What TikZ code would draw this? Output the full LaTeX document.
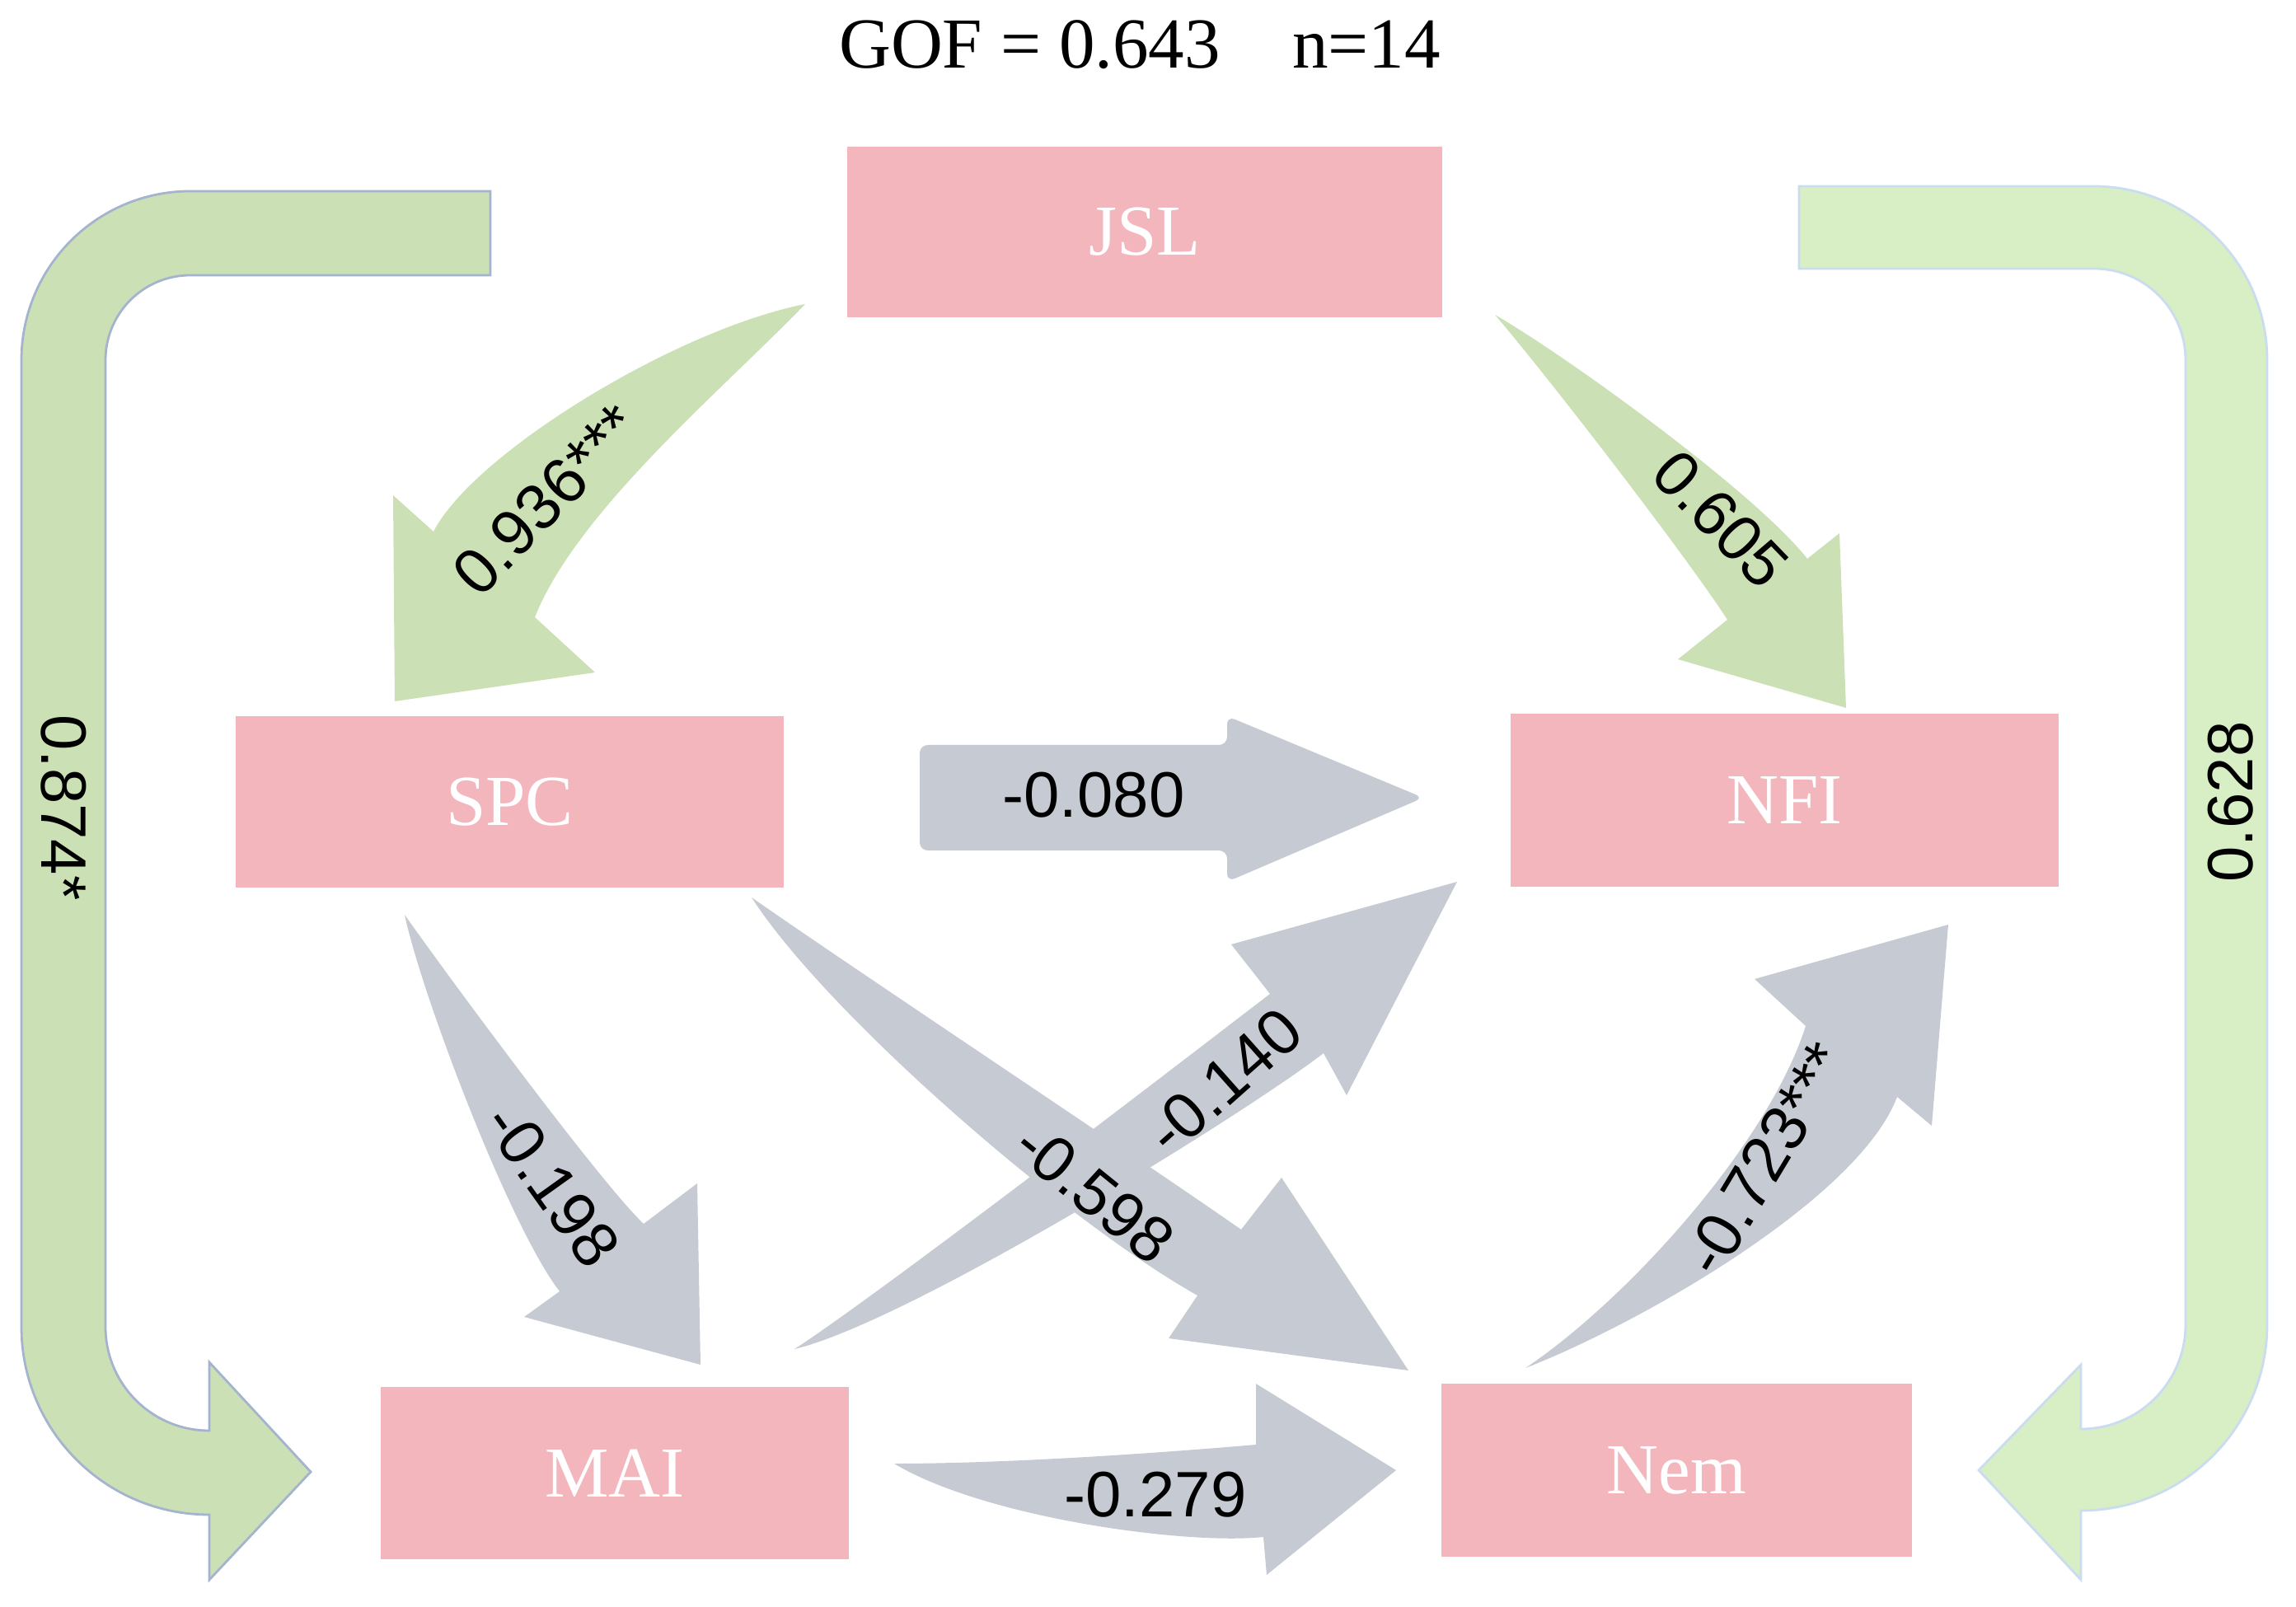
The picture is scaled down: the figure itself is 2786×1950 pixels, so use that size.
\documentclass[tikz,border=0pt]{standalone}
\usepackage{fontspec}
\setmainfont{Liberation Serif}
\newfontfamily\coeffont{Liberation Sans}
\usepackage{tikz}
\definecolor{boxpink}{HTML}{F3B6BD}
\definecolor{pathgray}{HTML}{C6CAD2}
\definecolor{pathgreen}{HTML}{CBE0B5}
\definecolor{pathlight}{HTML}{D8EEC5}
\definecolor{rimblue}{HTML}{A5B4CE}
\definecolor{rimlight}{HTML}{CADCEF}

\begin{document}
\begin{tikzpicture}[x=0.005cm, y=0.005cm,
    var/.style={rectangle, fill=boxpink, text=white, inner sep=0pt, font=\fontsize{12.4}{14}\selectfont},
    coef/.style={inner sep=0pt, font=\coeffont\fontsize{11.1}{13}\selectfont},
    gray arrow/.style={fill=pathgray},
    green arrow/.style={fill=pathgreen}]
        \useasboundingbox (0,0) rectangle (2786,-1950);
        \node[anchor=base, font=\fontsize{12.4}{14}\selectfont] (gof) at (1383,-83) {GOF = 0.643\hspace{1em}n=14};
        \node[var, minimum width=3.61cm, minimum height=1.035cm] (jsl) at (1389,-281.5) {JSL};
        \node[var, minimum width=3.325cm, minimum height=1.04cm] (spc) at (618.5,-973) {SPC};
        \node[var, minimum width=3.325cm, minimum height=1.05cm] (nfi) at (2165.5,-971) {NFI};
        \node[var, minimum width=2.84cm, minimum height=1.045cm] (mai) at (746,-1787.5) {MAI};
        \node[var, minimum width=2.855cm, minimum height=1.05cm] (nem) at (2034.5,-1784) {Nem};
        \filldraw[fill=pathgreen, draw=rimblue, line width=0.4pt] (595,-232) -- (231,-232) arc[start angle=90, end angle=180, radius=205] -- (26,-1610) arc[start angle=180, end angle=270, radius=228] -- (254,-1917) -- (377,-1786) -- (254,-1653) -- (254,-1736) arc[start angle=270, end angle=180, radius=126] -- (128,-437) arc[start angle=180, end angle=90, radius=103] -- (595,-334) -- cycle;
        \filldraw[fill=pathlight, draw=rimlight, line width=0.4pt] (2183,-226) -- (2540,-226) arc[start angle=90, end angle=0, radius=211] -- (2751,-1607) arc[start angle=0, end angle=-90, radius=226] -- (2525,-1917) -- (2401,-1784) -- (2525,-1656) -- (2525,-1734) arc[start angle=-90, end angle=0, radius=127] -- (2652,-437) arc[start angle=0, end angle=90, radius=111] -- (2183,-326) -- cycle;
        \fill[green arrow] (977,-369) .. controls (820,-400) and (575,-550) .. (526,-645) -- (477,-601) -- (479,-851) -- (722,-816) -- (649,-749) .. controls (700,-620) and (880,-470) .. (977,-369) -- cycle;
        \fill[green arrow] (1814,-382) .. controls (1904,-434) and (2131,-599) .. (2193,-678) -- (2232,-647) -- (2240,-859) -- (2036,-800) -- (2096,-752) .. controls (2047,-676) and (1879,-458) .. (1814,-382) -- cycle;
        \fill[gray arrow, rounded corners=1.4pt] (1489,-904) -- (1489,-869) -- (1727,-968) -- (1489,-1070) -- (1489,-1032) -- (1116,-1032) -- (1116,-904) -- cycle;
        \fill[gray arrow] (491,-1110) .. controls (511,-1205) and (618,-1488) .. (679,-1567) -- (636,-1598) -- (850,-1656) -- (846,-1436) -- (781,-1485) .. controls (730,-1437) and (546,-1188) .. (491,-1110) -- cycle;
        \fill[gray arrow] (912,-1089) .. controls (1035,-1175) and (1383,-1406) .. (1506,-1492) -- (1555,-1429) -- (1709,-1663) -- (1418,-1624) -- (1453,-1572) .. controls (1290,-1480) and (1002,-1229) .. (912,-1089) -- cycle;
        \fill[gray arrow] (964,-1637) .. controls (1065,-1572) and (1446,-1279) .. (1541,-1206) -- (1494,-1146) -- (1768,-1070) -- (1634,-1329) -- (1606,-1278) .. controls (1503,-1357) and (1100,-1605) .. (964,-1637) -- cycle;
        \fill[gray arrow] (1851,-1660) .. controls (1975,-1577) and (2146,-1387) .. (2191,-1245) -- (2129,-1188) -- (2364,-1122) -- (2344,-1366) -- (2302,-1331) .. controls (2255,-1455) and (1990,-1606) .. (1851,-1660) -- cycle;
        \fill[gray arrow] (1085,-1776) .. controls (1230,-1776) and (1420,-1762) .. (1524,-1753) -- (1524,-1679) -- (1694,-1784) -- (1537,-1911) -- (1533,-1865) .. controls (1440,-1875) and (1195,-1842) .. (1085,-1776) -- cycle;
        \node[coef, rotate=45.7] (c936) at (663,-606) {0.936***};
        \node[coef, rotate=-46] (c605) at (2088,-630) {0.605};
        \node[coef] (c080) at (1327,-965) {-0.080};
        \node[coef, rotate=-54.5] (c198) at (670,-1438) {-0.198};
        \node[coef, rotate=-39] (c598) at (1328,-1447) {-0.598};
        \node[coef, rotate=41.6] (c140) at (1485,-1312) {-0.140};
        \node[coef, rotate=59] (c723) at (2142,-1406) {-0.723***};
        \node[coef] (c279) at (1402,-1814) {-0.279};
        \node[coef, rotate=-90] (c874) at (77,-980) {0.874*};
        \node[coef, rotate=90] (c628) at (2707,-973) {0.628};
      \end{tikzpicture}
\end{document}
